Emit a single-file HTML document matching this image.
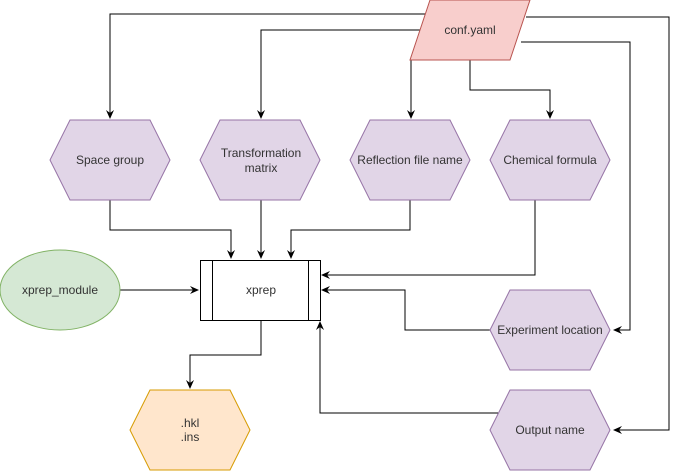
<!DOCTYPE html>
<html><head><style>body{margin:0;background:#fff}svg{display:block}</style></head><body>
<svg width="679" height="471" viewBox="0 0 679 471" xmlns="http://www.w3.org/2000/svg" font-family="Liberation Sans, sans-serif" font-size="12" fill="none">
<defs><marker id="a" markerWidth="10" markerHeight="10" refX="8" refY="5" orient="auto" markerUnits="userSpaceOnUse"><path d="M0,1 L9,5 L0,9 L3,5 Z" fill="#000"/></marker></defs>
<g stroke="#000" stroke-width="1" marker-end="url(#a)">
<path d="M426,14 H110 V118"/>
<path d="M421,30 H261 V118"/>
<path d="M411,60 V118"/>
<path d="M470,60 V90 H550 V118"/>
<path d="M526,17 H669 V430 H614"/>
<path d="M521,42 H630 V330 H614"/>
<path d="M110,200 V230 H231 V258"/>
<path d="M261,200 V258"/>
<path d="M410,200 V230 H291 V258"/>
<path d="M535,200 V275 H322"/>
<path d="M490,330 H405 V290 H322"/>
<path d="M498,413 H320 V322"/>
<path d="M120,290 H198"/>
<path d="M261,320 V355 H190 V388"/>
</g>
<polygon points="430,0 530,0 510,60 410,60" fill="#f8cecc" stroke="#b85450"/>
<text x="470" y="34" fill="#333" text-anchor="middle">conf.yaml</text>
<g fill="#e1d5e7" stroke="#9673a6">
<polygon points="70,120 150,120 170,160 150,200 70,200 50,160"/>
<polygon points="220,120 300,120 320,160 300,200 220,200 200,160"/>
<polygon points="370,120 450,120 470,160 450,200 370,200 350,160"/>
<polygon points="510,120 590,120 610,160 590,200 510,200 490,160"/>
<polygon points="510,290 590,290 610,330 590,370 510,370 490,330"/>
<polygon points="510,390 590,390 610,430 590,470 510,470 490,430"/>
</g>
<polygon points="150,390 230,390 250,430 230,470 150,470 130,430" fill="#ffe6cc" stroke="#d79b00"/>
<ellipse cx="60" cy="290" rx="60" ry="40" fill="#d5e8d4" stroke="#82b366"/>
<rect x="200.5" y="260.5" width="120" height="60" fill="#fff" stroke="#000"/>
<path d="M212.5,260.5 V320.5 M308.5,260.5 V320.5" stroke="#000"/>
<g fill="#333" text-anchor="middle">
<text x="110" y="164">Space group</text>
<text x="261" y="157">Transformation</text>
<text x="261" y="172">matrix</text>
<text x="410" y="164">Reflection file name</text>
<text x="550" y="164">Chemical formula</text>
<text x="550" y="334">Experiment location</text>
<text x="550" y="434">Output name</text>
<text x="190" y="427">.hkl</text>
<text x="190" y="441">.ins</text>
<text x="60" y="294">xprep_module</text>
<text x="261" y="294">xprep</text>
</g>
</svg>
</body></html>
